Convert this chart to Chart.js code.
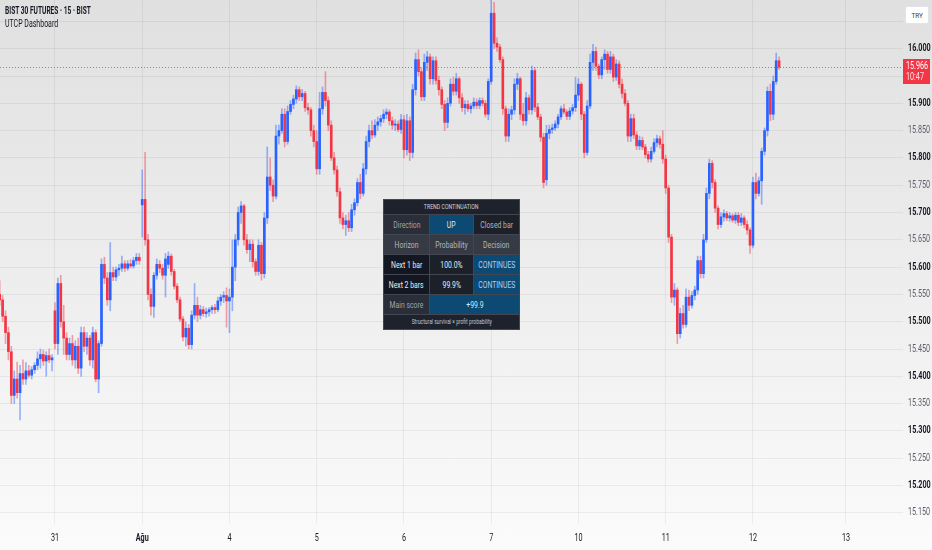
<!DOCTYPE html>
<html>
<head>
<meta charset="utf-8">
<script src="https://cdn.jsdelivr.net/npm/chart.js@4.4.1/dist/chart.umd.min.js"></script>
<style>
html,body{margin:0;padding:0;}
body{width:932px;height:550px;overflow:hidden;background:linear-gradient(to bottom,#e0e0e0 0%,#ececec 45%,#fbfbfb 100%);position:relative;font-family:Roboto,sans-serif;}
#wrap{position:absolute;left:0;top:0;width:932px;height:550px;}
.sx{display:inline-block;white-space:nowrap;transform-origin:left center;}
#t1{position:absolute;left:5px;top:5px;font-size:10px;font-weight:bold;color:#131722;transform:scaleX(0.66);transform-origin:left top;white-space:nowrap;}
#t2{position:absolute;left:5px;top:18px;font-size:10px;color:#131722;transform:scaleX(0.7);transform-origin:left top;white-space:nowrap;}
#try{position:absolute;left:905px;top:6px;width:22px;height:16px;background:#fff;border:1px solid #e0e3eb;border-radius:2px;
 font-size:8px;color:#3a3d47;display:flex;align-items:center;justify-content:center;}
#try span{transform:scaleX(0.8);}
#dash{position:absolute;left:383px;top:199px;width:137px;height:131px;box-sizing:border-box;padding:1px;background:#434651;
 display:grid;grid-template-columns:45px 43px 45px;grid-template-rows:14px 19px 19px 19px 19px 19px 14px;gap:1px;}
#dash > div{display:flex;align-items:center;justify-content:center;overflow:hidden;font-size:9.5px;}
#dash > div > span{display:inline-block;white-space:nowrap;transform:scaleX(0.72);}
#dash .t{grid-column:1 / span 3;background:#1e222d;color:#d1d4dc;font-size:6.5px;}
#dash .t span{transform:scaleX(0.8);}
#dash .f{grid-column:1 / span 3;background:#1e222d;color:#c3c6ce;font-size:6.5px;}
#dash .f span{transform:scaleX(0.76);}
#dash .s2{grid-column:2 / span 2;}
.g{background:#2a2e39;color:#9fa3ad;}
.h{background:#363a45;color:#b2b5be;}
.k{background:#131722;color:#eceef2;}
.d{background:#1c2029;color:#eceef2;}
.e{background:#1c2029;color:#b2b5be;}
.b{background:#0d4a73;color:#dfe7f3;}
.c{background:#0d4a73;color:#a9cdf5;}
</style>
</head>
<body>
<div id="wrap"><canvas id="c" width="932" height="550"></canvas></div>
<div id="t1">BIST 30 FUTURES · 15 · BIST</div>
<div id="t2">UTCP Dashboard</div>
<div id="try"><span>TRY</span></div>
<div id="dash">
 <div class="t"><span>TREND CONTINUATION</span></div>
 <div class="g"><span>Direction</span></div><div class="b"><span>UP</span></div><div class="e"><span>Closed bar</span></div>
 <div class="h"><span>Horizon</span></div><div class="h"><span>Probability</span></div><div class="h"><span>Decision</span></div>
 <div class="k"><span>Next 1 bar</span></div><div class="d"><span>100.0%</span></div><div class="c"><span>CONTINUES</span></div>
 <div class="k"><span>Next 2 bars</span></div><div class="d"><span>99.9%</span></div><div class="c"><span>CONTINUES</span></div>
 <div class="g"><span>Main score</span></div><div class="b s2"><span>+99.9</span></div>
 <div class="f"><span>Structural survival × profit probability</span></div>
</div>
<script>
const opens = [
15550,15540,15510,15480,15445,15365,15395,15370,15405,15395,
15410,15402,15412,15420,15432,15440,15428,15438,15430,15520,
15460,15570,15500,15470,15440,15460,15430,15455,15415,15480,
15455,15470,15430,15480,15395,15460,15605,15580,15540,15590,
15582,15595,15598,15606,15598,15606,15602,15612,15618,15714,
15724,15650,15550,15528,15585,15605,15598,15585,15605,15620,
15592,15565,15540,15505,15472,15488,15458,15512,15530,15512,
15522,15515,15518,15522,15526,15522,15538,15545,15548,15538,
15545,15600,15650,15700,15712,15650,15632,15642,15610,15592,
15640,15588,15690,15765,15750,15730,15840,15850,15880,15830,
15885,15898,15908,15925,15912,15918,15892,15888,15850,15830,
15780,15890,15920,15905,15860,15800,15778,15738,15690,15678,
15685,15672,15705,15718,15755,15735,15780,15830,15850,15842,
15860,15866,15872,15880,15884,15868,15860,15862,15852,15870,
15815,15868,15810,15925,15980,15958,15912,15975,15985,15945,
15978,15942,15925,15898,15865,15900,15935,15922,15945,15910,
15892,15898,15890,15895,15902,15896,15905,15900,15880,15940,
16065,16010,16003,15980,15890,15840,15880,15888,15935,15945,
15880,15868,15910,15888,15960,15893,15875,15838,15760,15845,
15852,15855,15862,15875,15890,15884,15876,15886,15892,15915,
15935,15880,15810,15895,15975,15995,15968,15952,15980,15990,
15962,15985,15948,15972,15935,15918,15900,15840,15872,15842,
15822,15832,15820,15806,15798,15812,15828,15835,15825,15798,
15745,15655,15545,15558,15478,15515,15495,15545,15530,15548,
15558,15612,15588,15650,15735,15790,15755,15708,15678,15692,
15698,15690,15694,15686,15695,15682,15690,15678,15668,15640,
15755,15735,15758,15812,15850,15922,15880,15940,15978];
const highs = [
15575,15548,15520,15490,15455,15410,15426,15420,15430,15425,
15420,15418,15425,15445,15450,15448,15445,15450,15440,15535,
15580,15585,15530,15480,15470,15475,15465,15470,15490,15490,
15480,15475,15490,15485,15465,15615,15618,15590,15645,15600,
15600,15605,15620,15612,15612,15614,15618,15625,15625,15778,
15810,15660,15560,15590,15615,15612,15605,15625,15628,15624,
15596,15570,15545,15510,15500,15495,15520,15570,15545,15530,
15528,15525,15526,15530,15532,15545,15550,15555,15562,15560,
15650,15660,15710,15720,15715,15660,15650,15650,15615,15650,
15645,15700,15820,15800,15760,15860,15860,15890,15890,15895,
15905,15915,15932,15930,15925,15922,15900,15892,15860,15850,
15920,15930,15958,15912,15868,15810,15785,15745,15700,15695,
15700,15715,15725,15762,15770,15790,15840,15860,15868,15870,
15875,15878,15888,15890,15888,15875,15870,15868,15880,15878,
15880,15875,15935,15992,15998,15965,15990,15995,15990,15985,
15985,15950,15930,15905,15910,15945,15948,15955,15948,15918,
15905,15905,15900,15910,15908,15910,15910,15905,15945,16089,
16085,16020,16008,15985,15895,15890,15895,15945,15955,15948,
15900,15920,15915,15968,15965,15900,15880,15845,15860,15860,
15862,15868,15880,15895,15898,15888,15892,15898,15948,15945,
15938,15885,15905,15990,16008,16003,15972,15985,15998,15995,
15995,15990,15980,15978,15945,15925,15905,15880,15880,15848,
15840,15838,15825,15812,15820,15835,15842,15840,15850,15805,
15750,15660,15570,15562,15525,15530,15560,15558,15555,15565,
15620,15620,15660,15745,15798,15795,15760,15712,15700,15705,
15702,15700,15698,15700,15700,15698,15694,15685,15672,15765,
15772,15765,15818,15855,15930,15935,15950,15992,15985];
const lows = [
15530,15500,15460,15430,15350,15350,15360,15320,15385,15385,
15398,15395,15405,15412,15415,15420,15400,15425,15410,15450,
15440,15490,15440,15430,15430,15420,15415,15405,15400,15445,
15440,15420,15415,15390,15370,15455,15570,15530,15520,15575,
15575,15585,15592,15592,15594,15598,15598,15605,15605,15655,
15640,15540,15512,15508,15578,15590,15578,15545,15598,15585,
15560,15535,15500,15465,15455,15450,15450,15505,15500,15505,
15510,15508,15510,15515,15515,15518,15530,15535,15490,15480,
15520,15575,15640,15680,15640,15625,15610,15600,15585,15585,
15576,15580,15680,15740,15720,15725,15825,15845,15820,15825,
15880,15890,15900,15905,15905,15885,15880,15840,15820,15770,
15770,15880,15895,15850,15795,15770,15730,15680,15670,15658,
15665,15665,15695,15712,15725,15730,15770,15820,15835,15838,
15850,15858,15865,15872,15860,15852,15850,15848,15845,15800,
15805,15795,15800,15915,15950,15905,15905,15960,15935,15935,
15935,15915,15890,15850,15855,15895,15915,15915,15900,15885,
15880,15885,15882,15890,15890,15890,15895,15875,15870,15935,
16000,15995,15975,15880,15830,15830,15870,15880,15925,15870,
15860,15860,15880,15880,15885,15870,15830,15745,15750,15835,
15845,15850,15855,15870,15880,15870,15870,15880,15885,15905,
15870,15800,15805,15890,15960,15960,15945,15945,15962,15955,
15955,15940,15942,15928,15910,15895,15830,15830,15835,15815,
15815,15815,15800,15792,15792,15808,15820,15818,15790,15735,
15645,15535,15530,15460,15470,15488,15490,15520,15525,15540,
15550,15580,15580,15645,15725,15745,15700,15670,15672,15684,
15685,15684,15682,15680,15676,15676,15672,15660,15625,15635,
15725,15730,15715,15805,15840,15868,15870,15935,15962];
const closes = [
15540,15510,15480,15445,15365,15395,15370,15405,15395,15410,
15402,15412,15420,15432,15440,15428,15438,15430,15434,15460,
15570,15500,15470,15440,15460,15430,15455,15415,15480,15455,
15470,15430,15480,15395,15460,15605,15580,15540,15590,15582,
15595,15598,15606,15598,15606,15602,15612,15618,15612,15724,
15650,15550,15528,15585,15605,15598,15585,15615,15620,15592,
15565,15540,15505,15472,15488,15458,15512,15530,15512,15522,
15515,15518,15522,15526,15522,15538,15545,15548,15538,15545,
15600,15650,15700,15712,15650,15632,15642,15610,15592,15640,
15588,15690,15765,15750,15730,15840,15850,15880,15830,15885,
15898,15908,15925,15912,15918,15892,15888,15850,15830,15780,
15890,15920,15905,15860,15800,15778,15738,15690,15678,15685,
15672,15705,15718,15755,15735,15780,15830,15850,15842,15860,
15866,15872,15880,15884,15868,15860,15862,15852,15870,15815,
15868,15810,15925,15980,15958,15912,15975,15985,15945,15978,
15942,15925,15898,15865,15900,15935,15922,15945,15910,15892,
15898,15890,15895,15902,15896,15905,15900,15880,15940,16065,
16010,16003,15980,15890,15840,15880,15888,15935,15945,15880,
15868,15910,15888,15960,15893,15875,15838,15755,15845,15852,
15855,15862,15875,15890,15884,15876,15886,15892,15915,15935,
15880,15810,15895,15975,15995,15968,15952,15980,15990,15962,
15985,15948,15972,15935,15918,15900,15840,15872,15842,15822,
15832,15820,15806,15798,15812,15828,15835,15825,15798,15745,
15655,15545,15558,15478,15515,15495,15545,15530,15548,15558,
15612,15588,15650,15735,15790,15755,15708,15678,15692,15698,
15690,15694,15686,15695,15682,15690,15678,15668,15640,15755,
15735,15758,15812,15850,15922,15880,15940,15978,15966];

// time axis: bar index where each day label sits
const dayTickIndex = [19, 49, 79, 109, 139, 169, 199, 229, 259, 291];
const dayTickLabels = ['31', 'Ağu', '4', '5', '6', '7', '10', '11', '12', '13'];
// price axis ticks (16.050 and 15.950 labels are covered in the original)
const priceTicks = [15150,15200,15250,15300,15350,15400,15450,15500,15550,15600,15650,15700,15750,15800,15850,15900,15950,16000,16050];
const hiddenPriceLabels = [16050];
const lastPrice = 15966;
const countdown = '10:47';

const UP = '#2962ff', DOWN = '#f23645';
const UPW = 'rgba(41,98,255,0.45)', DOWNW = 'rgba(242,54,69,0.45)';
const FONT = 'Roboto, sans-serif';

const bodies = opens.map((o, i) => ({x: i, y: [o, closes[i]]}));
const wicks = highs.map((h, i) => ({x: i, y: [lows[i], h]}));
const isUp = i => closes[i] >= opens[i];

// narrow (condensed) text rendering on the canvas
const canvas = document.getElementById('c');
const c2d = canvas.getContext('2d');
const origFill = c2d.fillText.bind(c2d);
c2d.fillText = function (t, x, y, mw) {
  const sx = this.__sx || 0.72;
  this.save();
  this.translate(x, y);
  this.scale(sx, 1);
  if (mw === undefined) origFill(t, 0, 0); else origFill(t, 0, 0, mw / sx);
  this.restore();
};

const noPad = s => { s.paddingTop = 0; s.paddingBottom = 0; s.paddingLeft = 0; s.paddingRight = 0; };

const lastLine = {
  id: 'lastLine',
  beforeDatasetsDraw(chart) {
    const {ctx, chartArea, scales} = chart;
    const y = Math.round(scales.y.getPixelForValue(lastPrice)) + 0.5;
    ctx.save();
    ctx.strokeStyle = 'rgba(242,54,69,0.8)';
    ctx.lineWidth = 1;
    ctx.setLineDash([1, 2]);
    ctx.beginPath();
    ctx.moveTo(chartArea.left, y);
    ctx.lineTo(chartArea.right, y);
    ctx.stroke();
    ctx.restore();
  },
  afterDraw(chart) {
    const {ctx, chartArea, scales} = chart;
    const y = scales.y.getPixelForValue(lastPrice);
    ctx.save();
    ctx.fillStyle = DOWN;
    ctx.fillRect(chartArea.right, Math.round(y - 8), 27, 25);
    ctx.fillStyle = '#ffffff';
    ctx.font = '10px ' + FONT;
    ctx.textAlign = 'left';
    ctx.textBaseline = 'middle';
    ctx.fillText((lastPrice / 1000).toFixed(3), chartArea.right + 3, y - 1);
    ctx.fillStyle = 'rgba(255,255,255,0.85)';
    ctx.fillText(countdown, chartArea.right + 3, y + 10);
    ctx.restore();
  }
};

new Chart(canvas, {
  type: 'bar',
  data: {
    datasets: [
      {
        data: bodies,
        order: 1,
        grouped: false,
        barThickness: 2,
        minBarLength: 1,
        backgroundColor: ctx => isUp(ctx.dataIndex) ? UP : DOWN,
        borderWidth: 0
      },
      {
        data: wicks,
        order: 2,
        grouped: false,
        barThickness: 1,
        backgroundColor: ctx => isUp(ctx.dataIndex) ? UPW : DOWNW,
        borderWidth: 0
      }
    ]
  },
  options: {
    responsive: false,
    animation: false,
    devicePixelRatio: 1,
    layout: {padding: 0},
    plugins: {legend: {display: false}, tooltip: {enabled: false}},
    scales: {
      x: {
        type: 'linear',
        offset: false,
        min: 0.1,
        max: 310.6,
        grid: {color: 'rgba(0,0,0,0.055)', drawTicks: false, offset: false},
        border: {display: false},
        afterBuildTicks: s => { s.ticks = dayTickIndex.map(v => ({value: v})); },
        afterFit: s => { s.height = 26; noPad(s); },
        ticks: {
          padding: 8,
          maxRotation: 0,
          autoSkip: false,
          color: '#131722',
          font: ctx => ({family: FONT, size: 10, weight: (ctx.tick && ctx.tick.value === 49) ? 'bold' : 'normal'}),
          callback: v => { const k = dayTickIndex.indexOf(v); return k >= 0 ? dayTickLabels[k] : ''; }
        }
      },
      y: {
        type: 'linear',
        position: 'right',
        min: 15129.5,
        max: 16089.2,
        grid: {color: 'rgba(0,0,0,0.055)', drawTicks: false},
        border: {display: false},
        afterBuildTicks: s => { s.ticks = priceTicks.map(v => ({value: v})); },
        afterFit: s => { s.width = 29; noPad(s); },
        ticks: {
          padding: 5,
          color: ctx => (ctx.tick && ctx.tick.value % 100 === 0) ? '#131722' : '#5d606b',
          font: ctx => ({family: FONT, size: 10, weight: (ctx.tick && ctx.tick.value % 100 === 0) ? 'bold' : 'normal'}),
          callback: v => hiddenPriceLabels.includes(v) ? '' : (v / 1000).toFixed(3)
        }
      }
    }
  },
  plugins: [lastLine]
});
</script>
</body>
</html>
